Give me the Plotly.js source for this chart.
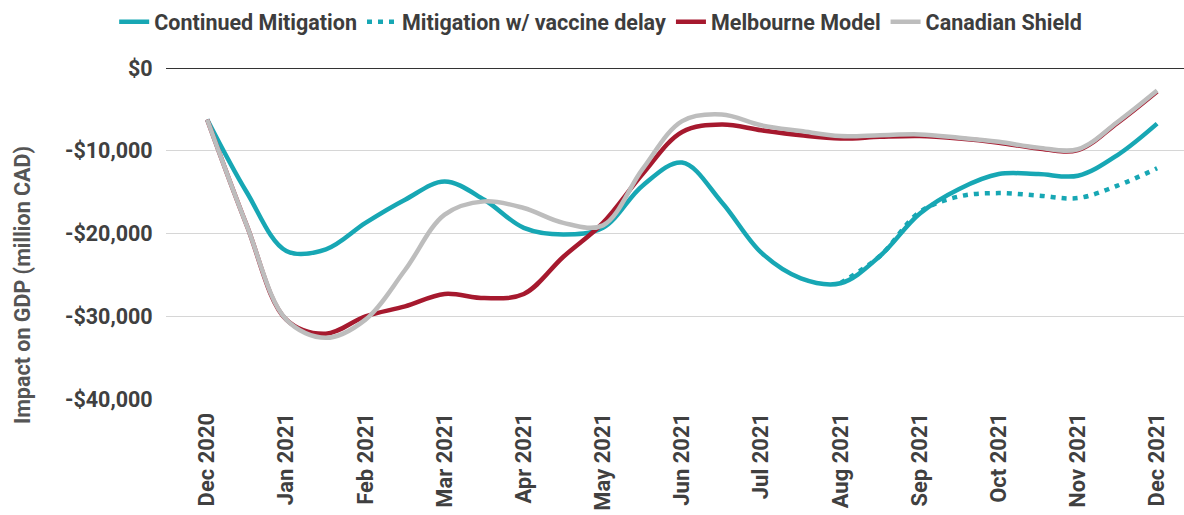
<!DOCTYPE html>
<html>
<head>
<meta charset="utf-8">
<script src="https://cdn.plot.ly/plotly-3.0.1.min.js"></script>
<style>
html,body{margin:0;padding:0;background:#fff;}
#chart{width:1184px;height:515px;}
</style>
</head>
<body>
<div id="chart"></div>
<script>
// Tick labels (one per month)
const monthLabels = ["Dec 2020","Jan 2021","Feb 2021","Mar 2021","Apr 2021","May 2021","Jun 2021","Jul 2021","Aug 2021","Sep 2021","Oct 2021","Nov 2021","Dec 2021"];
const monthPositions = [0,1,2,3,4,5,6,7,8,9,10,11,12];

// Half-month sample positions (0 = Dec 2020)
const samplePositions = [0,0.5,1,1.5,2,2.5,3,3.5,4,4.5,5,5.5,6,6.5,7,7.5,8,8.5,9,9.5,10,10.5,11,11.5,12];

// Values in million CAD
const continuedMitigation = [-6200,-15000,-22100,-21900,-18700,-15900,-13700,-15900,-19300,-20100,-19300,-14200,-11400,-16200,-22300,-25400,-26000,-22700,-17600,-14600,-12800,-12800,-13000,-10500,-6700];
const vaccineDelayPositions = [8,8.5,9,9.5,10,10.5,11,11.5,12];
const vaccineDelay = [-26000,-22700,-17400,-15500,-15100,-15400,-15700,-14200,-12100];
const melbourneModel = [-6200,-19000,-30400,-32100,-30000,-28800,-27300,-27800,-27300,-22800,-18700,-12800,-7700,-6800,-7500,-8100,-8500,-8300,-8200,-8500,-9000,-9700,-9900,-6600,-2800];
const canadianShield = [-6200,-19000,-30400,-32600,-30400,-24400,-17700,-16100,-16900,-18700,-19000,-12200,-6400,-5600,-6900,-7600,-8200,-8100,-8000,-8400,-8900,-9600,-9800,-6500,-2700];

const yTickVals = [0,-10000,-20000,-30000,-40000];
const yTickText = ["$0","-$10,000","-$20,000","-$30,000","-$40,000"];

const teal = "#17a7b4";
const red = "#a6192e";
const gray = "#bdbdbd";

const traces = [
  {x: vaccineDelayPositions, y: vaccineDelay, name: "Mitigation w/ vaccine delay", mode: "lines",
   line: {color: teal, width: 4.5, dash: "5px,6px", shape: "spline", smoothing: 1}, legendrank: 2},
  {x: samplePositions, y: continuedMitigation, name: "Continued Mitigation", mode: "lines",
   line: {color: teal, width: 4.5, shape: "spline", smoothing: 1}, legendrank: 1},
  {x: samplePositions, y: melbourneModel, name: "Melbourne Model", mode: "lines",
   line: {color: red, width: 4.5, shape: "spline", smoothing: 1}, legendrank: 3},
  {x: samplePositions, y: canadianShield, name: "Canadian Shield", mode: "lines",
   line: {color: gray, width: 4.5, shape: "spline", smoothing: 1}, legendrank: 4}
];

const layout = {
  width: 1184, height: 515,
  margin: {l: 166, r: 0, t: 67, b: 116, autoexpand: false},
  paper_bgcolor: "#fff", plot_bgcolor: "#fff",
  font: {family: "Roboto, sans-serif", color: "#404040"},
  showlegend: true,
  legend: {
    orientation: "h", x: 0.427, xanchor: "center", y: 1.136, yanchor: "middle",
    font: {size: 21.5, family: "Roboto, sans-serif", color: "#3d3d3d", weight: "bold"},
    itemwidth: 30, traceorder: "normal"
  },
  xaxis: {
    range: [-0.52, 12.34],
    tickmode: "array", tickvals: monthPositions, ticktext: monthLabels,
    tickangle: -90, showgrid: false, zeroline: false, showline: false,
    ticks: "outside", ticklen: 4, tickcolor: "rgba(0,0,0,0)",
    tickfont: {size: 22, family: "Roboto, sans-serif", color: "#404040", weight: "bold"}
  },
  yaxis: {
    range: [-40000, 150],
    tickmode: "array", tickvals: yTickVals, ticktext: yTickText,
    showgrid: true, gridcolor: "#d6d6d6", gridwidth: 1,
    zeroline: true, zerolinecolor: "#333", zerolinewidth: 1.3,
    showline: false,
    ticks: "outside", ticklen: 8, tickcolor: "rgba(0,0,0,0)",
    tickfont: {size: 21.5, family: "Roboto, sans-serif", color: "#404040", weight: "bold"}
  },
  annotations: [{
    text: "Impact on GDP (million CAD)", textangle: -90, showarrow: false,
    xref: "paper", yref: "paper", x: -0.1415, y: 0.343, xanchor: "center", yanchor: "middle",
    font: {size: 21.5, family: "Roboto, sans-serif", color: "#555", weight: "bold"}
  }]
};

Plotly.newPlot("chart", traces, layout, {displayModeBar: false, staticPlot: true});
</script>
</body>
</html>
